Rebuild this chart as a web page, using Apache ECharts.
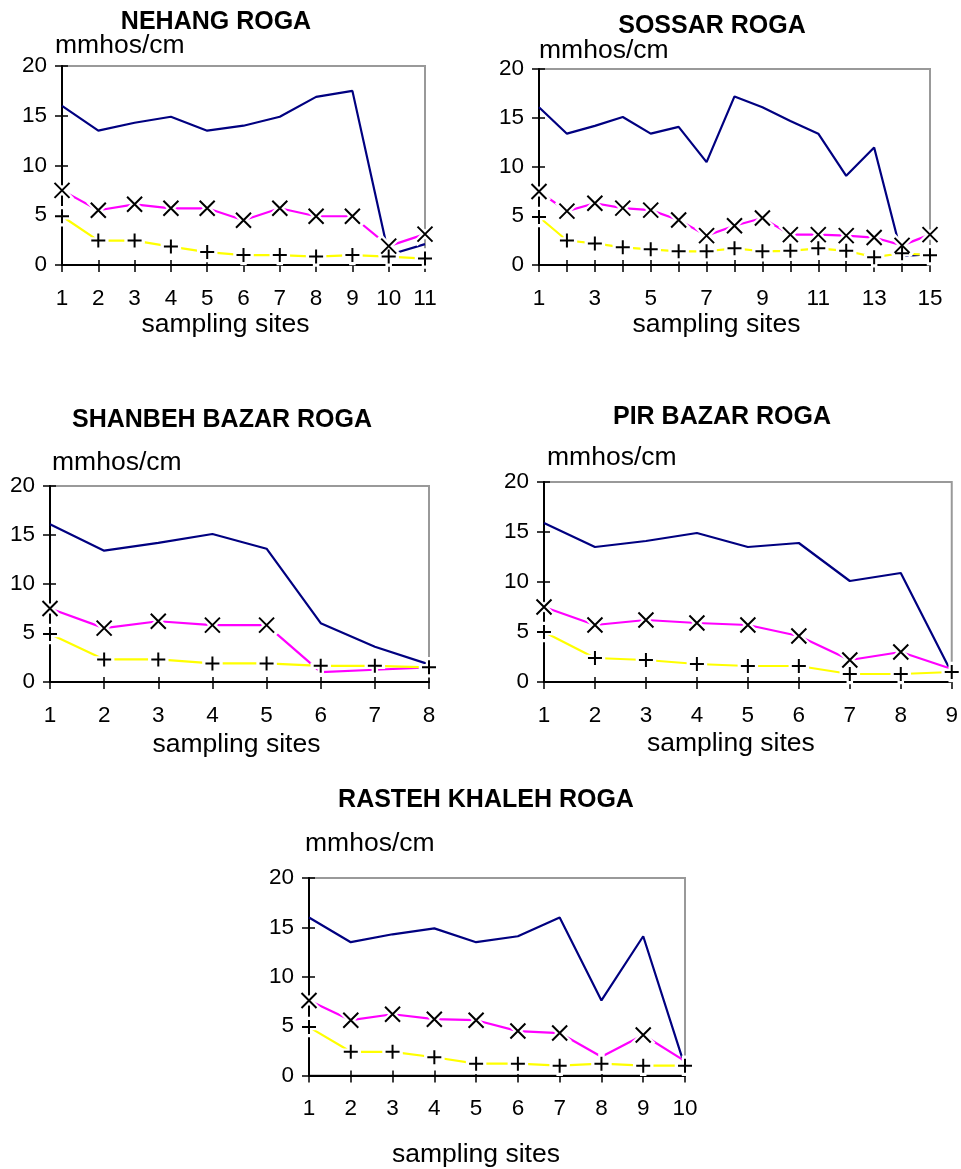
<!DOCTYPE html>
<html>
<head>
<meta charset="utf-8">
<script src="https://cdn.jsdelivr.net/npm/echarts@6/dist/echarts.min.js"></script>
<style>
html,body{margin:0;padding:0;background:#fff;}
#chart{width:961px;height:1169px;}
</style>
</head>
<body>
<div id="chart"></div>
<script>
// ---------- DATA ----------
const yTickValues = [0, 5, 10, 15, 20];
const unitLabel = 'mmhos/cm';
const xAxisTitle = 'sampling sites';

const nehangSites = ['1','2','3','4','5','6','7','8','9','10','11'];
const nehangLine1 = [16.0, 13.5, 14.3, 14.9, 13.5, 14.0, 14.9, 16.9, 17.5, 1.0, 2.1];
const nehangLine2 = [7.5, 5.5, 6.1, 5.7, 5.7, 4.5, 5.7, 4.9, 4.9, 1.9, 3.1];
const nehangLine3 = [4.9, 2.45, 2.45, 1.85, 1.3, 1.0, 1.0, 0.85, 1.0, 0.85, 0.65];

const sossarSites = ['1','2','3','4','5','6','7','8','9','10','11','12','13','14','15'];
const sossarLine1 = [16.1, 13.4, 14.2, 15.1, 13.4, 14.1, 10.5, 17.2, 16.1, 14.7, 13.4, 9.1, 12.0, 0.9, 1.1];
const sossarLine2 = [7.5, 5.5, 6.3, 5.8, 5.6, 4.6, 3.0, 4.0, 4.8, 3.1, 3.1, 3.0, 2.8, 2.0, 3.1];
const sossarLine3 = [4.9, 2.5, 2.2, 1.8, 1.6, 1.4, 1.4, 1.7, 1.4, 1.45, 1.7, 1.45, 0.8, 1.2, 1.0];

const shanbehSites = ['1','2','3','4','5','6','7','8'];
const shanbehLine1 = [16.1, 13.4, 14.2, 15.1, 13.6, 6.0, 3.6, 1.8];
const shanbehLine2 = [7.5, 5.5, 6.2, 5.8, 5.8, 1.0, 1.25, 1.5];
const shanbehLine3 = [4.9, 2.3, 2.3, 1.9, 1.9, 1.65, 1.65, 1.5];

const pirSites = ['1','2','3','4','5','6','7','8','9'];
const pirLine1 = [15.9, 13.5, 14.1, 14.9, 13.5, 13.9, 10.1, 10.9, 0.9];
const pirLine2 = [7.5, 5.7, 6.2, 5.9, 5.7, 4.6, 2.2, 3.0, 1.3];
const pirLine3 = [5.0, 2.4, 2.2, 1.8, 1.6, 1.6, 0.8, 0.8, 1.0];

const rastehSites = ['1','2','3','4','5','6','7','8','9','10'];
const rastehLine1 = [16.0, 13.5, 14.3, 14.9, 13.5, 14.1, 16.0, 7.6, 14.1, 0.9];
const rastehLine2 = [7.6, 5.6, 6.2, 5.7, 5.6, 4.5, 4.3, 1.9, 4.1, 1.45];
const rastehLine3 = [4.9, 2.4, 2.4, 1.85, 1.2, 1.2, 1.0, 1.2, 1.0, 1.0];

// ---------- LAYOUT / STYLE ----------
const FONT = '"Liberation Sans", Arial, Helvetica, sans-serif';
const panels = [
  {title:'NEHANG ROGA', sites:nehangSites, lines:[nehangLine1, nehangLine2, nehangLine3],
   grid:{left:62, top:66, width:363, height:199}, tx:216, ty:22,
   yGap:20, yPad:-7, xGap:57, xShift:18, labelInterval:0, hideX:[]},
  {title:'SOSSAR ROGA', sites:sossarSites, lines:[sossarLine1, sossarLine2, sossarLine3],
   grid:{left:539, top:69, width:391, height:196}, tx:712, ty:26,
   yGap:18.5, yPad:0, xGap:47, xShift:18, labelInterval:1, hideX:[]},
  {title:'SHANBEH BAZAR ROGA', sites:shanbehSites, lines:[shanbehLine1, shanbehLine2, shanbehLine3],
   grid:{left:50, top:486, width:379, height:196}, tx:222, ty:420.5,
   yGap:23, yPad:2, xGap:63, xShift:3, labelInterval:0, hideX:[5,6,7]},
  {title:'PIR BAZAR ROGA', sites:pirSites, lines:[pirLine1, pirLine2, pirLine3],
   grid:{left:544, top:482, width:411, height:200}, tx:722, ty:417,
   yGap:24, yPad:3, xGap:62, xShift:17, labelInterval:0, hideX:[8]},
  {title:'RASTEH KHALEH ROGA', sites:rastehSites, lines:[rastehLine1, rastehLine2, rastehLine3],
   grid:{left:309, top:878, width:376, height:198}, tx:486, ty:800.5,
   yGap:34, yPad:-4, xGap:79, xShift:21, labelInterval:0, hideX:[7,9]}
];

const lineColors = ['#000080', '#FF00FF', '#FFFF00'];
const PLUS = 'path://M0,5L10,5M5,0L5,10';
const CROSS = 'path://M0,0L10,10M10,0L0,10';

const option = {
  animation: false,
  backgroundColor: '#ffffff',
  title: [], grid: [], xAxis: [], yAxis: [], series: []
};

panels.forEach((p, i) => {
  option.title.push({
    text: p.title, left: p.tx, top: p.ty, textAlign: 'center', textVerticalAlign: 'middle',
    padding: 0,
    textStyle: {fontFamily: FONT, fontWeight: 'bold', fontSize: 25, color: '#000'}
  });
  option.grid.push(Object.assign({
    show: true, borderColor: '#999999', borderWidth: 2, backgroundColor: 'transparent'
  }, p.grid));

  // main x axis (outside ticks + labels)
  option.xAxis.push({
    gridIndex: i, type: 'category', data: p.sites, boundaryGap: false, position: 'bottom',
    name: xAxisTitle, nameLocation: 'middle', nameGap: p.xGap,
    nameTextStyle: {fontFamily: FONT, fontSize: 26.5, color: '#000', verticalAlign: 'middle',
                    padding: [0, 2 * p.xShift, 0, 0]},
    axisLine: {onZero: false, lineStyle: {color: '#000', width: 2}},
    axisTick: {show: true, inside: false, length: 7, interval: 0, lineStyle: {color: '#000', width: 1.5}},
    axisLabel: {interval: p.labelInterval, margin: 22, fontFamily: FONT, fontSize: 22.5, color: '#000'},
    splitLine: {show: false}
  });
  // overlay x axis (inside ticks => crossing ticks)
  option.xAxis.push({
    gridIndex: i, type: 'category', data: p.sites, boundaryGap: false, position: 'bottom',
    axisLine: {show: false, onZero: false},
    axisTick: {show: true, inside: true, length: 5, interval: 0, lineStyle: {color: '#000', width: 1.5}},
    axisLabel: {show: false}, splitLine: {show: false}
  });
  // main y axis
  option.yAxis.push({
    gridIndex: i, type: 'value', min: yTickValues[0], max: yTickValues[yTickValues.length - 1],
    interval: yTickValues[1] - yTickValues[0], position: 'left',
    name: unitLabel, nameLocation: 'end', nameGap: p.yGap,
    nameTextStyle: {fontFamily: FONT, fontSize: 26.5, color: '#000', align: 'left', verticalAlign: 'middle',
                    padding: [0, 0, 0, p.yPad]},
    axisLine: {show: true, onZero: false, lineStyle: {color: '#000', width: 2}},
    axisTick: {show: true, inside: false, length: 7, lineStyle: {color: '#000', width: 1.5}},
    axisLabel: {margin: 15, fontFamily: FONT, fontSize: 22.5, color: '#000'},
    splitLine: {show: false}
  });
  // overlay y axis
  option.yAxis.push({
    gridIndex: i, type: 'value', min: yTickValues[0], max: yTickValues[yTickValues.length - 1],
    interval: yTickValues[1] - yTickValues[0], position: 'left',
    axisLine: {show: false, onZero: false},
    axisTick: {show: true, inside: true, length: 6, lineStyle: {color: '#000', width: 1.5}},
    axisLabel: {show: false}, splitLine: {show: false}
  });

  const xi = 2 * i, yi = 2 * i;
  p.lines.forEach((vals, j) => {
    option.series.push({
      type: 'line', xAxisIndex: xi, yAxisIndex: yi, data: vals, symbol: 'none', silent: true,
      lineStyle: {color: lineColors[j], width: 2.2}, itemStyle: {color: lineColors[j]}, z: 2
    });
  });
  // markers: series 2 => X, series 3 => +
  [[1, CROSS, 15], [2, PLUS, 14]].forEach(([j, sym, size]) => {
    const vals = p.lines[j];
    const data = vals.map((v, k) => (j === 1 && p.hideX.indexOf(k) >= 0) ? {value: v, symbol: 'none'} : v);
    option.series.push({
      type: 'line', xAxisIndex: xi, yAxisIndex: yi, data: data, symbol: sym, symbolSize: size,
      showAllSymbol: true, silent: true, lineStyle: {opacity: 0, width: 0},
      itemStyle: {color: 'transparent', borderColor: '#ffffff', borderWidth: 6.5, borderCap: 'square'}, z: 3
    });
    option.series.push({
      type: 'line', xAxisIndex: xi, yAxisIndex: yi, data: data, symbol: sym, symbolSize: size,
      showAllSymbol: true, silent: true, lineStyle: {opacity: 0, width: 0},
      itemStyle: {color: 'transparent', borderColor: '#000000', borderWidth: 2}, z: 4
    });
  });
});

const chart = echarts.init(document.getElementById('chart'), null, {renderer: 'canvas'});
chart.setOption(option);
</script>
</body>
</html>
